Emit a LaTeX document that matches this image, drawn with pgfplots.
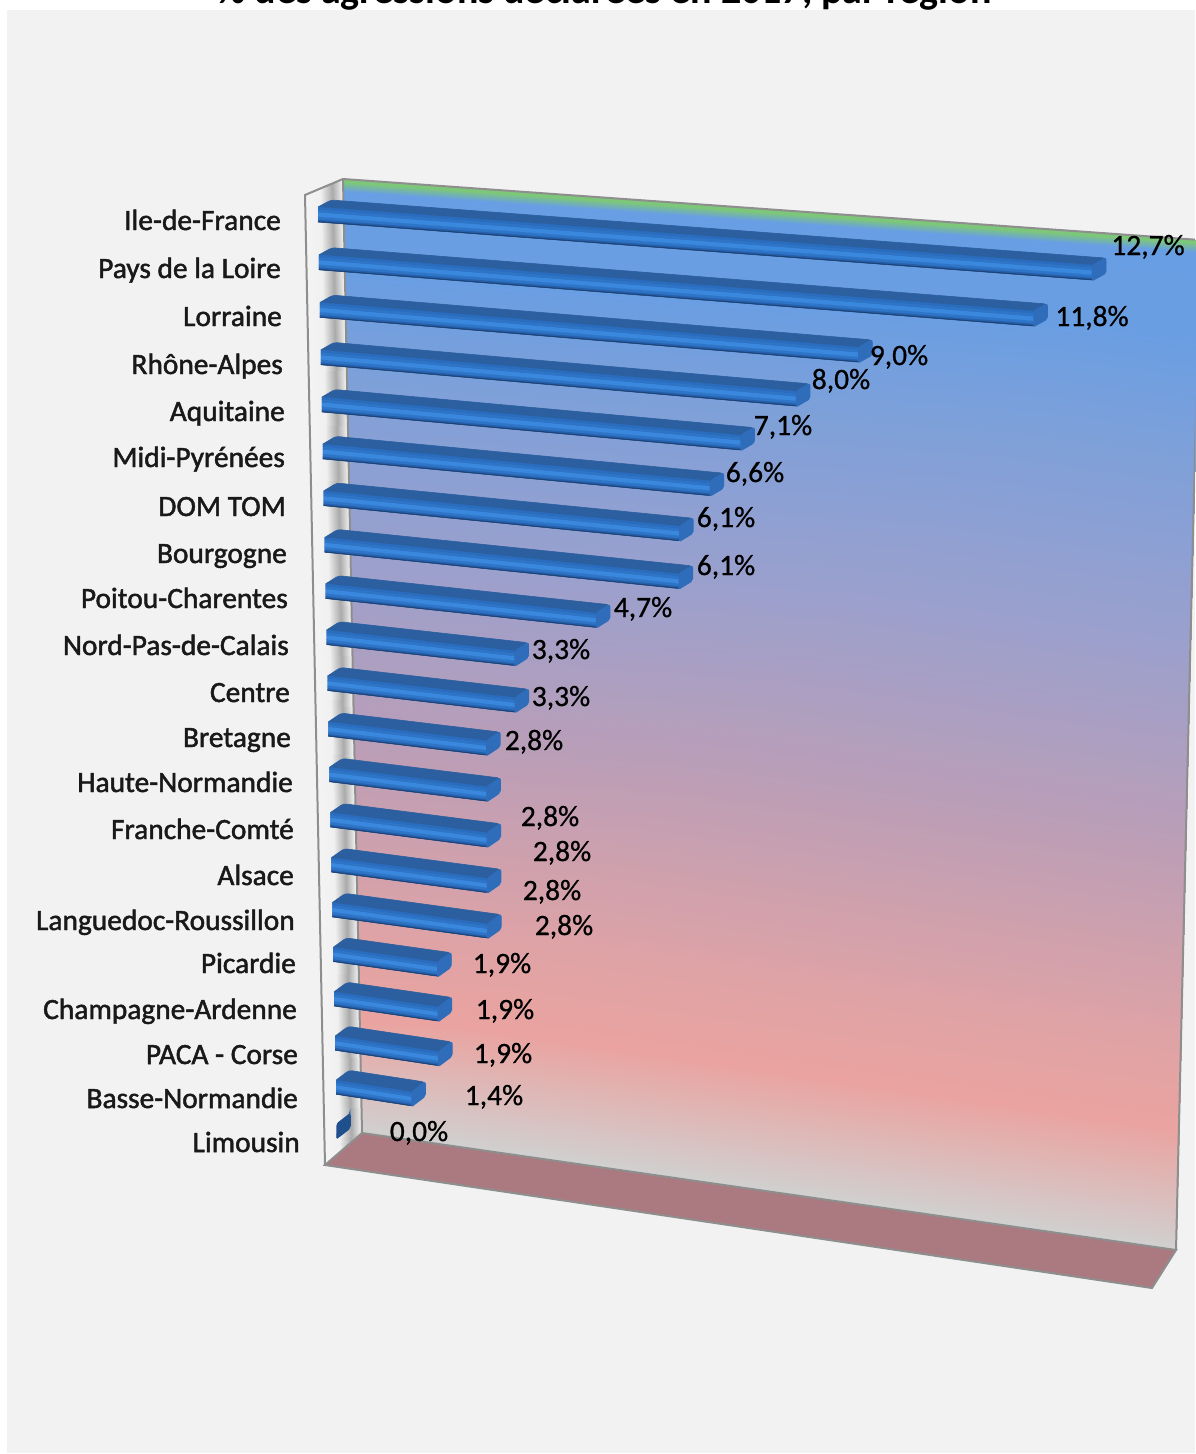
\documentclass[border=0pt]{standalone}
\usepackage{pgfplots}
\pgfplotsset{compat=1.18}
\usepackage{fontspec}
\setmainfont{Carlito}
\newfontfamily\regionfont[FakeBold=1.6]{Carlito}
\newfontfamily\valuefont[FakeBold=0.8]{Carlito}

\definecolor{canvas}{HTML}{F2F2F2}
\definecolor{edge}{HTML}{8E8E8E}
\definecolor{floorc}{HTML}{AB7A80}
\definecolor{bartop}{HTML}{2C5F9F}
\definecolor{barA}{HTML}{2A6CBE}
\definecolor{barB}{HTML}{3A87DE}
\definecolor{barC}{HTML}{2E75C8}
\definecolor{barD}{HTML}{2660AC}
\definecolor{barE}{HTML}{1B4072}
\definecolor{barcap}{HTML}{2F6CBA}
\definecolor{zerocap}{HTML}{1F4F8C}

% Bars sit on the floor of a skewed box: (v, rank) map to page units.
\tikzset{
  declare function={
    barx(\v,\r,\d)=318+0.95*\r+\v*(58.97-0.258*\r+0.16*\v)+\d*13;
    bary(\v,\r,\d,\h)=222+47.9*\r-0.105*\r*\r+\v*(4.57+0.2*\r)-\d*(7+0.15*\r)-\h*(15-0.05*\r);
  },
}
\pgfplotsset{
  colormap={backwall}{
    rgb255(0pt)=(125,200,120);
    rgb255(3pt)=(125,200,120);
    rgb255(13pt)=(104,158,228);
    rgb255(100pt)=(106,158,226);
    rgb255(200pt)=(124,160,218);
    rgb255(400pt)=(155,160,205);
    rgb255(600pt)=(188,158,182);
    rgb255(800pt)=(224,163,165);
    rgb255(880pt)=(234,163,160);
    rgb255(1000pt)=(208,208,208);
  },
  colormap={sidewall}{
    rgb255(0pt)=(244,244,244);
    rgb255(40pt)=(240,240,240);
    rgb255(71pt)=(170,170,170);
    rgb255(97pt)=(240,240,240);
    rgb255(100pt)=(240,240,240);
  },
}

% One lengthwise band of a bar's front face.
\newcommand{\faceband}[5]{%
  \addplot[fill=#3, draw=#3, line width=0.3pt, forget plot]
    table[row sep=\\,
      x expr={barx(\thisrow{f}*#1,#2,0)},
      y expr={bary(\thisrow{f}*#1,#2,0,\thisrow{h})}]
    {f h\\ 0 #4\\ 1 #4\\ 1 #5\\ 0 #5\\};
}
% A whole bar: value, rank from the top; the optional colour is the end cap's.
\newcommand{\regionbar}[3][barcap]{%
  \addplot[fill=bartop, draw=bartop, line width=0.6pt, rounded corners=3pt, forget plot]
    table[row sep=\\,
      x expr={barx(\thisrow{f}*#2,#3,\thisrow{d})},
      y expr={bary(\thisrow{f}*#2,#3,\thisrow{d},\thisrow{h})}]
    {f d h\\ 0 0 0\\ 1 0 0\\ 1 1 0\\ 1 1 1\\ 0 1 1\\ 0 0 1\\};
  \faceband{#2}{#3}{barE}{0.00}{0.07}
  \faceband{#2}{#3}{barD}{0.07}{0.18}
  \faceband{#2}{#3}{barC}{0.18}{0.36}
  \faceband{#2}{#3}{barB}{0.36}{0.66}
  \faceband{#2}{#3}{barC}{0.66}{0.86}
  \faceband{#2}{#3}{barA}{0.86}{1.00}
  \addplot[fill=#1, draw=#1, line width=1.5pt, rounded corners=2pt, forget plot]
    table[row sep=\\,
      x expr={barx(\thisrow{f}*#2,#3,\thisrow{d})},
      y expr={bary(\thisrow{f}*#2,#3,\thisrow{d},\thisrow{h})}]
    {f d h\\ 1 0 0\\ 1 1 0\\ 1 1 1\\ 1 0 1\\ 1 0 0\\};
}
\newcommand{\regionname}[3]{\node[anchor=base east, inner sep=0pt, font=\fontsize{29.4}{29.4}\selectfont\regionfont, text=black!90] at (axis cs:#2,#3+9) {#1};}
\newcommand{\valuelabel}[3]{\node[anchor=base, inner sep=0pt, font=\fontsize{29.5}{29.5}\selectfont\valuefont, text=black] at (axis cs:#2,#3+10) {#1\%};}

\begin{document}
\begin{tikzpicture}
\path[use as bounding box] (0,0) rectangle (1195pt,1454pt);
\begin{axis}[
  at={(0,0)}, anchor=south west,
  scale only axis, width=1195pt, height=1454pt,
  xmin=0, xmax=1195, ymin=0, ymax=1454, y dir=reverse,
  hide axis, clip=true,
]
% Chart area and clipped heading
\fill[canvas] (axis cs:7,10) rectangle (axis cs:1195,1453);
\node[anchor=base, font=\fontsize{40}{40}\selectfont\bfseries] at (axis cs:604,3)
  {\% des agressions déclarées en 2017, par région};

% Box walls and floor
\addplot[patch, patch type=rectangle, shader=interp, colormap name=sidewall, point meta=explicit, point meta rel=per plot, forget plot]
  table[meta=c] {
x y c
305 195 0
343 179 100
362 1133 100
325 1165 0
};
\addplot[patch, patch type=rectangle, shader=interp, colormap name=backwall, point meta=explicit, point meta rel=per plot, forget plot]
  table[meta=c] {
x y c
343 179 0
1200 240 0
1176 1250 1000
362 1133 1000
};
\addplot[fill=floorc, draw=edge, line width=2pt, forget plot] coordinates
  {(362,1133) (1176,1250) (1152,1288) (325,1165) (362,1133)};
\addplot[draw=edge, line width=2pt, forget plot] coordinates
  {(325,1165) (305,195) (343,179) (1200,240)};
\addplot[draw=edge, line width=2pt, forget plot] coordinates
  {(343,179) (362,1133)};
\addplot[draw=edge, line width=2pt, forget plot] coordinates
  {(1176,1250) (1200,240)};

% Bars, largest at the top
\regionbar{12.7}{0}
\regionbar{11.8}{1}
\regionbar{9.0}{2}
\regionbar{8.0}{3}
\regionbar{7.1}{4}
\regionbar{6.6}{5}
\regionbar{6.1}{6}
\regionbar{6.1}{7}
\regionbar{4.7}{8}
\regionbar{3.3}{9}
\regionbar{3.3}{10}
\regionbar{2.8}{11}
\regionbar{2.8}{12}
\regionbar{2.8}{13}
\regionbar{2.8}{14}
\regionbar{2.8}{15}
\regionbar{1.9}{16}
\regionbar{1.9}{17}
\regionbar{1.9}{18}
\regionbar{1.4}{19}
\regionbar[zerocap]{0.0}{20}

% Region names
\regionname{Ile-de-France}{281}{221}
\regionname{Pays de la Loire}{281}{269}
\regionname{Lorraine}{282}{317}
\regionname{Rhône-Alpes}{283}{365}
\regionname{Aquitaine}{285}{412}
\regionname{Midi-Pyrénées}{285}{458}
\regionname{DOM TOM}{286}{507}
\regionname{Bourgogne}{287}{554}
\regionname{Poitou-Charentes}{288}{599}
\regionname{Nord-Pas-de-Calais}{289}{646}
\regionname{Centre}{290}{693}
\regionname{Bretagne}{291}{738}
\regionname{Haute-Normandie}{293}{783}
\regionname{Franche-Comté}{294}{830}
\regionname{Alsace}{294}{876}
\regionname{Languedoc-Roussillon}{295}{921}
\regionname{Picardie}{296}{964}
\regionname{Champagne-Ardenne}{297}{1010}
\regionname{PACA - Corse}{298}{1055}
\regionname{Basse-Normandie}{298}{1099}
\regionname{Limousin}{300}{1143}

% Value labels
\valuelabel{12,7}{1148}{245}
\valuelabel{11,8}{1092}{316}
\valuelabel{9,0}{899}{355}
\valuelabel{8,0}{841}{379}
\valuelabel{7,1}{783}{425}
\valuelabel{6,6}{755}{472}
\valuelabel{6,1}{726}{517}
\valuelabel{6,1}{726}{565}
\valuelabel{4,7}{643}{607}
\valuelabel{3,3}{561}{649}
\valuelabel{3,3}{561}{696}
\valuelabel{2,8}{534}{740}
\valuelabel{2,8}{550}{816}
\valuelabel{2,8}{562}{851}
\valuelabel{2,8}{552}{890}
\valuelabel{2,8}{564}{925}
\valuelabel{1,9}{502}{963}
\valuelabel{1,9}{505}{1009}
\valuelabel{1,9}{503}{1053}
\valuelabel{1,4}{494}{1095}
\valuelabel{0,0}{419}{1131}
\end{axis}
\end{tikzpicture}
\end{document}
